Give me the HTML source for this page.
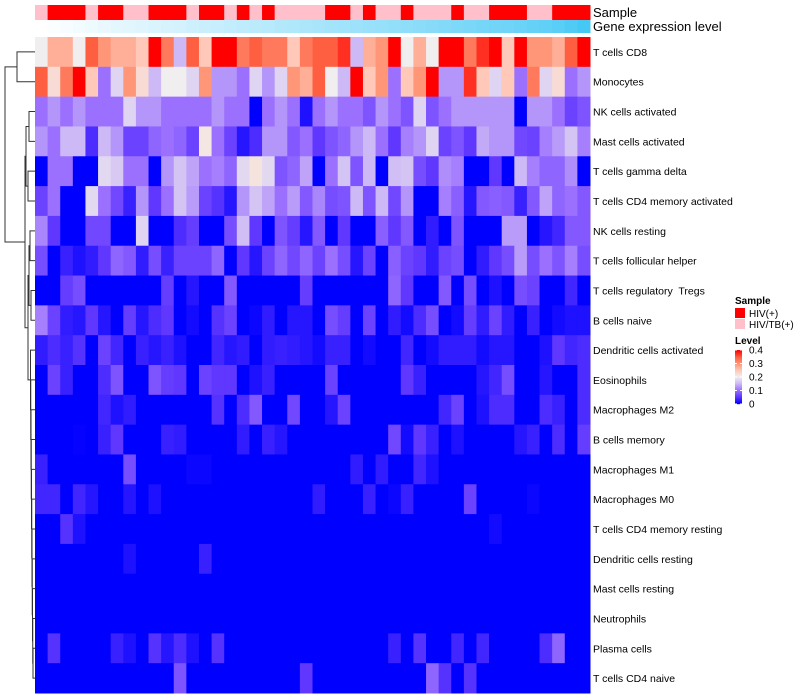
<!DOCTYPE html>
<html><head><meta charset="utf-8">
<style>
html,body{margin:0;padding:0;background:#fff;width:800px;height:700px;overflow:hidden}
svg{display:block;font-family:"Liberation Sans",Arial,sans-serif}
text{white-space:pre}
</style></head>
<body>
<svg id="chart" width="800" height="700"></svg>
<script>
const rowLabels=["T cells CD8","Monocytes","NK cells activated","Mast cells activated","T cells gamma delta","T cells CD4 memory activated","NK cells resting","T cells follicular helper","T cells regulatory  Tregs","B cells naive","Dendritic cells activated","Eosinophils","Macrophages M2","B cells memory","Macrophages M1","Macrophages M0","T cells CD4 memory resting","Dendritic cells resting","Mast cells resting","Neutrophils","Plasma cells","T cells CD4 naive"];
const sampleGroups="PRRRPRRPPRRRPRRPRPRPPPPRRPRPPRPPPRPPRRRPPRRR".split("");
const geneLevel=[0,.02,.05,.07,.1,.12,.14,.16,.18,.2,.22,.24,.27,.29,.31,.33,.35,.37,.39,.41,.43,.45,.47,.49,.51,.53,.55,.57,.59,.61,.63,.65,.67,.7,.72,.74,.76,.78,.8,.83,.86,.9,.95,1];
// raw values in units of 0.05 (level = raw*0.05)
const raw=[
[4,5.5,5.5,4,7,6,5.5,5.5,5,8,6.5,3,7,5,8,8,6.5,7,6.5,6.5,5,6.5,7,7,7.5,3,5.5,6,8,4,5.5,4,8,8,6.5,7.5,8,5,8,6,6,5.5,7,8],
[7,4.5,6.5,8,5,2,3.5,6,4.5,3,4,4,3.5,6,2.5,2.5,2,3.5,2.5,3.5,6,5.5,7,4,3,8,5,6,2,5,6,8,2.5,2.5,7.5,5,3.5,5,2,6.5,3.5,4.5,2,2.5],
[2,2.5,2,2.5,2,2,2,3.5,2.5,2.5,2,2,2,2,2.5,2,2,0,2,2.5,2,0.3,2,2.5,2,2,1.5,2.5,2,1.5,3.5,1.5,2,2.5,2.5,2.5,2.5,2.5,0,2.5,2.5,2,1.2,1.5],
[2.5,2,3,3,0.8,3,2.5,1.2,1.2,1.8,2,1.8,1.2,4.2,2,1.2,0.4,0.8,2.5,2.5,1.6,2,1,1.5,1.8,2.5,3,2,1,2.2,2.5,3.5,1.2,1.5,1,2.8,2.5,2.5,1.3,1.2,2.2,2.6,3.2,2.2],
[0,2,2,0,0,3.6,3.3,2,2,0,2.5,3.2,2.7,2,2.2,1.8,3.6,4.3,3.6,1.5,1.8,2.7,0,2,3.2,1.5,3,0,3.1,3.2,1.4,1,2.4,2.2,0,0,1,0,3,2.2,1.8,1.8,2.4,0],
[1.2,2,0,0,3.6,2,1.3,0.6,2.5,1,2,3.2,2.6,1.2,0.9,0.4,2.5,3.2,2.7,2,2.6,1.6,2.3,1.4,1.5,3,1.5,3,1.3,2.5,0,0,2.2,1.7,0.4,1.6,1.7,1.6,0.6,1.6,2.7,1.8,2,1.6],
[2.3,1,0,0,1.3,1.3,0,0,3.5,0,0,0.8,1.1,0,0,1.4,3.1,1,0,1.5,1.1,0.4,1.6,0,1,0,0,1.7,1,1.6,0,0.5,0,1.5,0,0,0,2.6,2.6,0,0.4,0.7,1.6,1.6],
[1.4,0,0.6,0.3,0.5,1,1.8,1.6,0.5,1.4,0.6,1.2,1.2,1.2,1.8,0,1,0.4,1.2,1.8,1.3,1.8,1.2,2,1.4,0.4,1.2,0,1.7,1.2,1,0.5,1.2,1.4,0,0.5,1,1.4,2.6,1.4,2,1.5,2.2,1.4],
[0,0,1.1,1.4,0,0,0,0,0,0,1.1,0,0.4,0,0,1.6,0,0,0,0,0,1.1,0,0,0,0,0,0,1.8,1,0,0,1.6,0,1.4,0,0.3,0,1.4,1.2,0,0,0.7,0],
[2.2,1.2,0.5,0.4,1,0.4,0,1.1,0.4,0.8,1,0,0.2,0,0.9,1.2,0,0.1,0.5,0,0.4,0.4,0,1.4,1.1,0,1.2,0,0.5,0.2,0.8,1.4,0,0.2,1.1,0.5,1.2,0.5,0,0.6,0,0.2,0.3,0.3],
[0.5,0.8,0.6,0.9,0,1.2,0.7,0,0.6,0.4,0.6,0.3,0,0,0.7,0.4,0.5,0,0.5,0.6,0.5,0.4,0.2,0.6,0.6,0,0.2,0,0,0.7,0,0.2,0.5,0.5,0.5,0.2,0.4,0.4,0,0,0.3,1,0.7,0.8],
[0,1.2,0.6,0,0,0.8,1.5,0,0,1.5,1.1,1,0,1.2,1,1,0,0.3,0.6,0,0,0,0,1.2,0,0,0,0,0,1,0.6,0,0,0,0,0.4,0.7,1.4,0,0,0.4,0,0,0.8],
[0,0,0,0,0,0.7,0.3,0.5,0,0,0,0,0,0,0.9,0,0.8,1.6,0,0,1.3,0,0,0.4,1.2,0,0,0,0,0,0,0,0.7,1.2,0,0.3,0.8,0.8,0,0,0.8,0.6,0,0.8],
[0,0,0,0.05,0,0.6,1,0,0,0,0.6,0.5,0,0,0,0,0.5,0,0.6,0.4,0,0,0,0,0,0,0,0,1.3,0.2,1,0.6,0,0.3,0,0,0,0,0.4,0.6,0,0.8,0,1.1],
[0.6,0,0,0,0,0,0,1.4,0,0,0,0,0.1,0.1,0,0,0,0,0,0,0,0,0,0,0,0.5,0,0.5,0,0,0.7,0.3,0,0,0,0,0,0,0,0,0,0,0,0],
[0.7,0.7,0,0.7,0.4,0,0,0.4,0,0.3,0,0,0,0,0,0,0,0,0,0,0,0,0.5,0,0,0,0.6,0,0.1,0.6,0,0,0,0,1.2,0,0,0,0,0.1,0,0,0,0],
[0,0,0.9,0.3,0,0,0,0,0,0,0,0,0,0,0,0,0,0,0,0,0,0,0,0,0,0,0,0,0,0,0,0,0,0,0,0,0.2,0,0,0,0,0,0,0],
[0,0,0,0,0,0,0,0.3,0,0,0,0,0,0.6,0,0,0,0,0,0,0,0,0,0,0,0,0,0,0,0,0,0,0,0,0,0,0,0,0,0,0,0,0,0],
[0,0,0,0,0,0,0,0,0,0,0,0,0,0,0,0,0,0,0,0,0,0,0,0,0,0,0,0,0,0,0,0,0,0,0,0,0,0,0,0,0,0,0,0],
[0,0,0,0,0,0,0,0,0,0,0,0,0,0,0,0,0,0,0,0,0,0,0,0,0,0,0,0,0,0,0,0,0,0,0,0,0,0,0,0,0,0,0,0],
[0,0.9,0,0,0,0,0.6,0.3,0,0.9,0.4,0.8,0.3,0,0.9,0,0,0,0,0,0,0,0,0,0,0,0,0,0.6,0,0.9,0,0,0.7,0,0.7,0,0,0,0,0.8,1.8,0,0],
[0,0,0,0,0,0,0,0,0,0,0,1.5,0,0,0,0,0,0,0,0,0,1,0,0,0,0,0,0,0,0,0,1.8,0.9,0,0.9,0,0,0,0,0,0,0,0,0]
];
const heatValues=raw.map(r=>r.map(d=>d*0.05));
const legendTicks=[0,0.1,0.2,0.3,0.4];

const NS="http://www.w3.org/2000/svg",svg=document.getElementById("chart");
function mk(t,a,p){const e=document.createElementNS(NS,t);for(const k in a)e.setAttribute(k,a[k]);(p||svg).appendChild(e);return e;}
const X0=35,X1=590,Y0=37,Y1=693,nC=44,nR=22,cw=(X1-X0)/nC,rh=(Y1-Y0)/nR;
const xPos=c=>X0+c*cw, yPos=r=>Y0+r*rh;
const stops=[[0,[0,0,255]],[0.05,[95,55,255]],[0.1,[155,112,255]],[0.15,[205,185,245]],[0.2,[240,238,238]],[0.25,[255,200,185]],[0.3,[255,150,120]],[0.35,[255,95,65]],[0.4,[255,0,0]]];
function col(v){v=Math.max(0,Math.min(0.4,v));for(let i=1;i<stops.length;i++){if(v<=stops[i][0]){const a=stops[i-1],b=stops[i],t=(v-a[0])/(b[0]-a[0]);return "rgb("+a[1].map((c,k)=>Math.round(c+(b[1][k]-c)*t)).join(",")+")";}}return "rgb(255,0,0)";}
function geneCol(v){const a=[255,255,255],b=[70,200,245];return "rgb("+a.map((c,k)=>Math.round(c+(b[k]-c)*v)).join(",")+")";}

const gA=mk("g",{});


sampleGroups.forEach((s,c)=>{const r=mk("rect",{x:xPos(c),y:5,width:cw+0.5,height:15,fill:s==="R"?"#ff0000":"#ffc0cb"},gA);

});
geneLevel.forEach((g,c)=>{const r=mk("rect",{x:xPos(c),y:20,width:cw+0.5,height:13,fill:geneCol(g)},gA);

});
const t1=mk("text",{x:593,y:17,"font-size":13,fill:"#000"});t1.textContent="Sample";


const t2=mk("text",{x:593,y:31,"font-size":13,fill:"#000"});t2.textContent="Gene expression level";



const gH=mk("g",{});


heatValues.forEach((row,r)=>row.forEach((v,c)=>{const e=mk("rect",{x:xPos(c),y:yPos(r),width:cw+0.5,height:rh+0.5,fill:col(v)},gH);

}));
rowLabels.forEach((l,r)=>{const t=mk("text",{x:593,y:yPos(r)+rh/2+4,"font-size":10.5,fill:"#000"});t.textContent=l;

});

const gD=mk("g",{stroke:"#333","stroke-width":1,fill:"none"});


const leaf=i=>({x:35,y:yPos(i)+rh/2});
function merge(a,b,x){mk("path",{d:`M${a.x},${a.y}H${x}V${b.y}H${b.x}`},gD);return {x:x,y:(a.y+b.y)/2};}
const m0=merge(leaf(0),leaf(1),17);
const m1=merge(leaf(2),leaf(3),29),m2=merge(leaf(4),leaf(5),28),m3=merge(m1,m2,26);
const m4=merge(leaf(6),leaf(7),30),m5=merge(leaf(8),leaf(9),31),m6=merge(m4,m5,29);
let ch=leaf(21);for(let i=20;i>=10;i--){ch=merge(leaf(i),ch,33-(20-i)*0.25);}
const m8=merge(m6,ch,28),m9=merge(m3,m8,25);merge(m0,m9,5);

const gL=mk("g",{});


const lt=mk("text",{x:735,y:304,"font-size":10,"font-weight":"bold"},gL);lt.textContent="Sample";


[["#ff0000","HIV(+)"],["#ffc0cb","HIV/TB(+)"]].forEach((e,i)=>{const r=mk("rect",{x:735,y:308+i*11,width:10,height:10,fill:e[0]},gL);


const t=mk("text",{x:749,y:317+i*11,"font-size":10},gL);t.textContent=e[1];

});
const lt2=mk("text",{x:735,y:344,"font-size":10,"font-weight":"bold"},gL);lt2.textContent="Level";


const cbTop=350,cbBot=404;
for(let i=0;i<54;i++){const v=0.4*(1-i/53);mk("rect",{x:735,y:cbTop+i,width:7,height:1.2,fill:col(v)},gL);}
legendTicks.forEach(v=>{const y=cbBot-(v/0.4)*(cbBot-cbTop);mk("line",{x1:735,x2:737,y1:y,y2:y,stroke:"#fff"},gL);mk("line",{x1:740,x2:742,y1:y,y2:y,stroke:"#fff"},gL);
const t=mk("text",{x:749,y:y+3.5,"font-size":10},gL);t.textContent=v===0?"0":v.toFixed(1);

});
</script>
</body></html>
